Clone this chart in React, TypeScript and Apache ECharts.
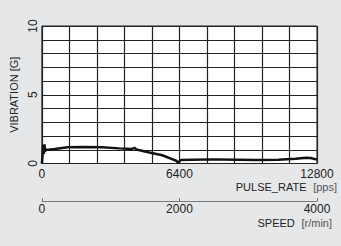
import React, { useEffect, useRef } from "react";
import * as echarts from "echarts";

const pulseRate = [0, 30, 60, 90, 120, 150, 200, 300, 600, 1200, 2000, 2800, 3600, 4200, 4300, 4400, 5000, 5600, 6000, 6250, 6350, 6450, 7000, 8000, 9000, 10000, 11000, 11800, 12300, 12500, 12800];
const vibration = [0.0, 0.6, 1.35, 0.7, 1.4, 0.9, 1.0, 1.0, 1.05, 1.18, 1.2, 1.18, 1.1, 1.05, 1.15, 1.02, 0.8, 0.6, 0.35, 0.2, 0.05, 0.25, 0.28, 0.3, 0.28, 0.25, 0.28, 0.35, 0.42, 0.4, 0.28];
const pulseTicks = [0, 6400, 12800];
const vibTicks = [0, 5, 10];
const speedTicks = [0, 2000, 4000];

const FONT = "'Liberation Sans', Arial, sans-serif";

export default function App() {
  const ref = useRef<HTMLDivElement>(null);
  useEffect(() => {
    const chart = echarts.init(ref.current!, null, { renderer: "svg" });
    chart.setOption({
      animation: false,
      backgroundColor: "#e6e7e9",
      textStyle: { fontFamily: FONT },
      grid: {
        left: 41, top: 26, width: 276, height: 137.5,
        show: true, backgroundColor: "#ffffff", borderColor: "#222", borderWidth: 1,
      },
      xAxis: [
        {
          type: "value", min: 0, max: 12800, interval: 1280,
          axisLine: { show: true, lineStyle: { color: "#222", width: 1 } },
          axisTick: { show: false },
          splitLine: { show: true, lineStyle: { color: "#222", width: 1.2 } },
          axisLabel: {
            margin: 4, fontSize: 12, color: "#222", fontFamily: FONT,
            formatter: (v: number) => (pulseTicks.includes(v) ? String(v) : ""),
          },
        },
        {
          type: "value", min: 0, max: 4000, interval: 2000, position: "bottom", offset: 37.5,
          axisLine: { show: true, lineStyle: { color: "#777", width: 1.2 } },
          axisTick: { show: true, inside: true, length: 3, lineStyle: { color: "#777" } },
          splitLine: { show: false },
          axisLabel: {
            margin: 2, fontSize: 12, color: "#222", fontFamily: FONT,
            formatter: (v: number) => (speedTicks.includes(v) ? String(v) : ""),
          },
        },
      ],
      yAxis: {
        type: "value", min: 0, max: 10, interval: 1,
        name: "VIBRATION [G]", nameLocation: "middle", nameGap: 16, nameRotate: 90,
        nameTextStyle: { fontSize: 11, color: "#222", fontFamily: FONT },
        axisLine: { show: true, lineStyle: { color: "#222", width: 1 } },
        axisTick: { show: false },
        splitLine: { show: true, lineStyle: { color: "#222", width: 1.2 } },
        axisLabel: {
          margin: 3, fontSize: 12, color: "#222", rotate: 90, fontFamily: FONT,
          formatter: (v: number) => (vibTicks.includes(v) ? String(v) : ""),
        },
      },
      graphic: [
        {
          type: "text", right: 4, top: 181,
          style: {
            text: "{a|PULSE_RATE}  {b|[pps]}",
            rich: {
              a: { fontSize: 11, fill: "#222", fontFamily: FONT },
              b: { fontSize: 11, fill: "#555", fontFamily: FONT },
            },
          },
        },
        {
          type: "text", right: 9, top: 217,
          style: {
            text: "{a|SPEED}  {b|[r/min]}",
            rich: {
              a: { fontSize: 11, fill: "#222", fontFamily: FONT },
              b: { fontSize: 11, fill: "#555", fontFamily: FONT },
            },
          },
        },
      ],
      series: [
        {
          type: "line", xAxisIndex: 0, yAxisIndex: 0, showSymbol: false,
          data: pulseRate.map((p, i) => [p, vibration[i]]),
          lineStyle: { color: "#111", width: 2.5 },
        },
      ],
    });
    return () => chart.dispose();
  }, []);
  return <div ref={ref} style={{ position: "fixed", left: 0, top: 0, width: 341, height: 246 }} />;
}
